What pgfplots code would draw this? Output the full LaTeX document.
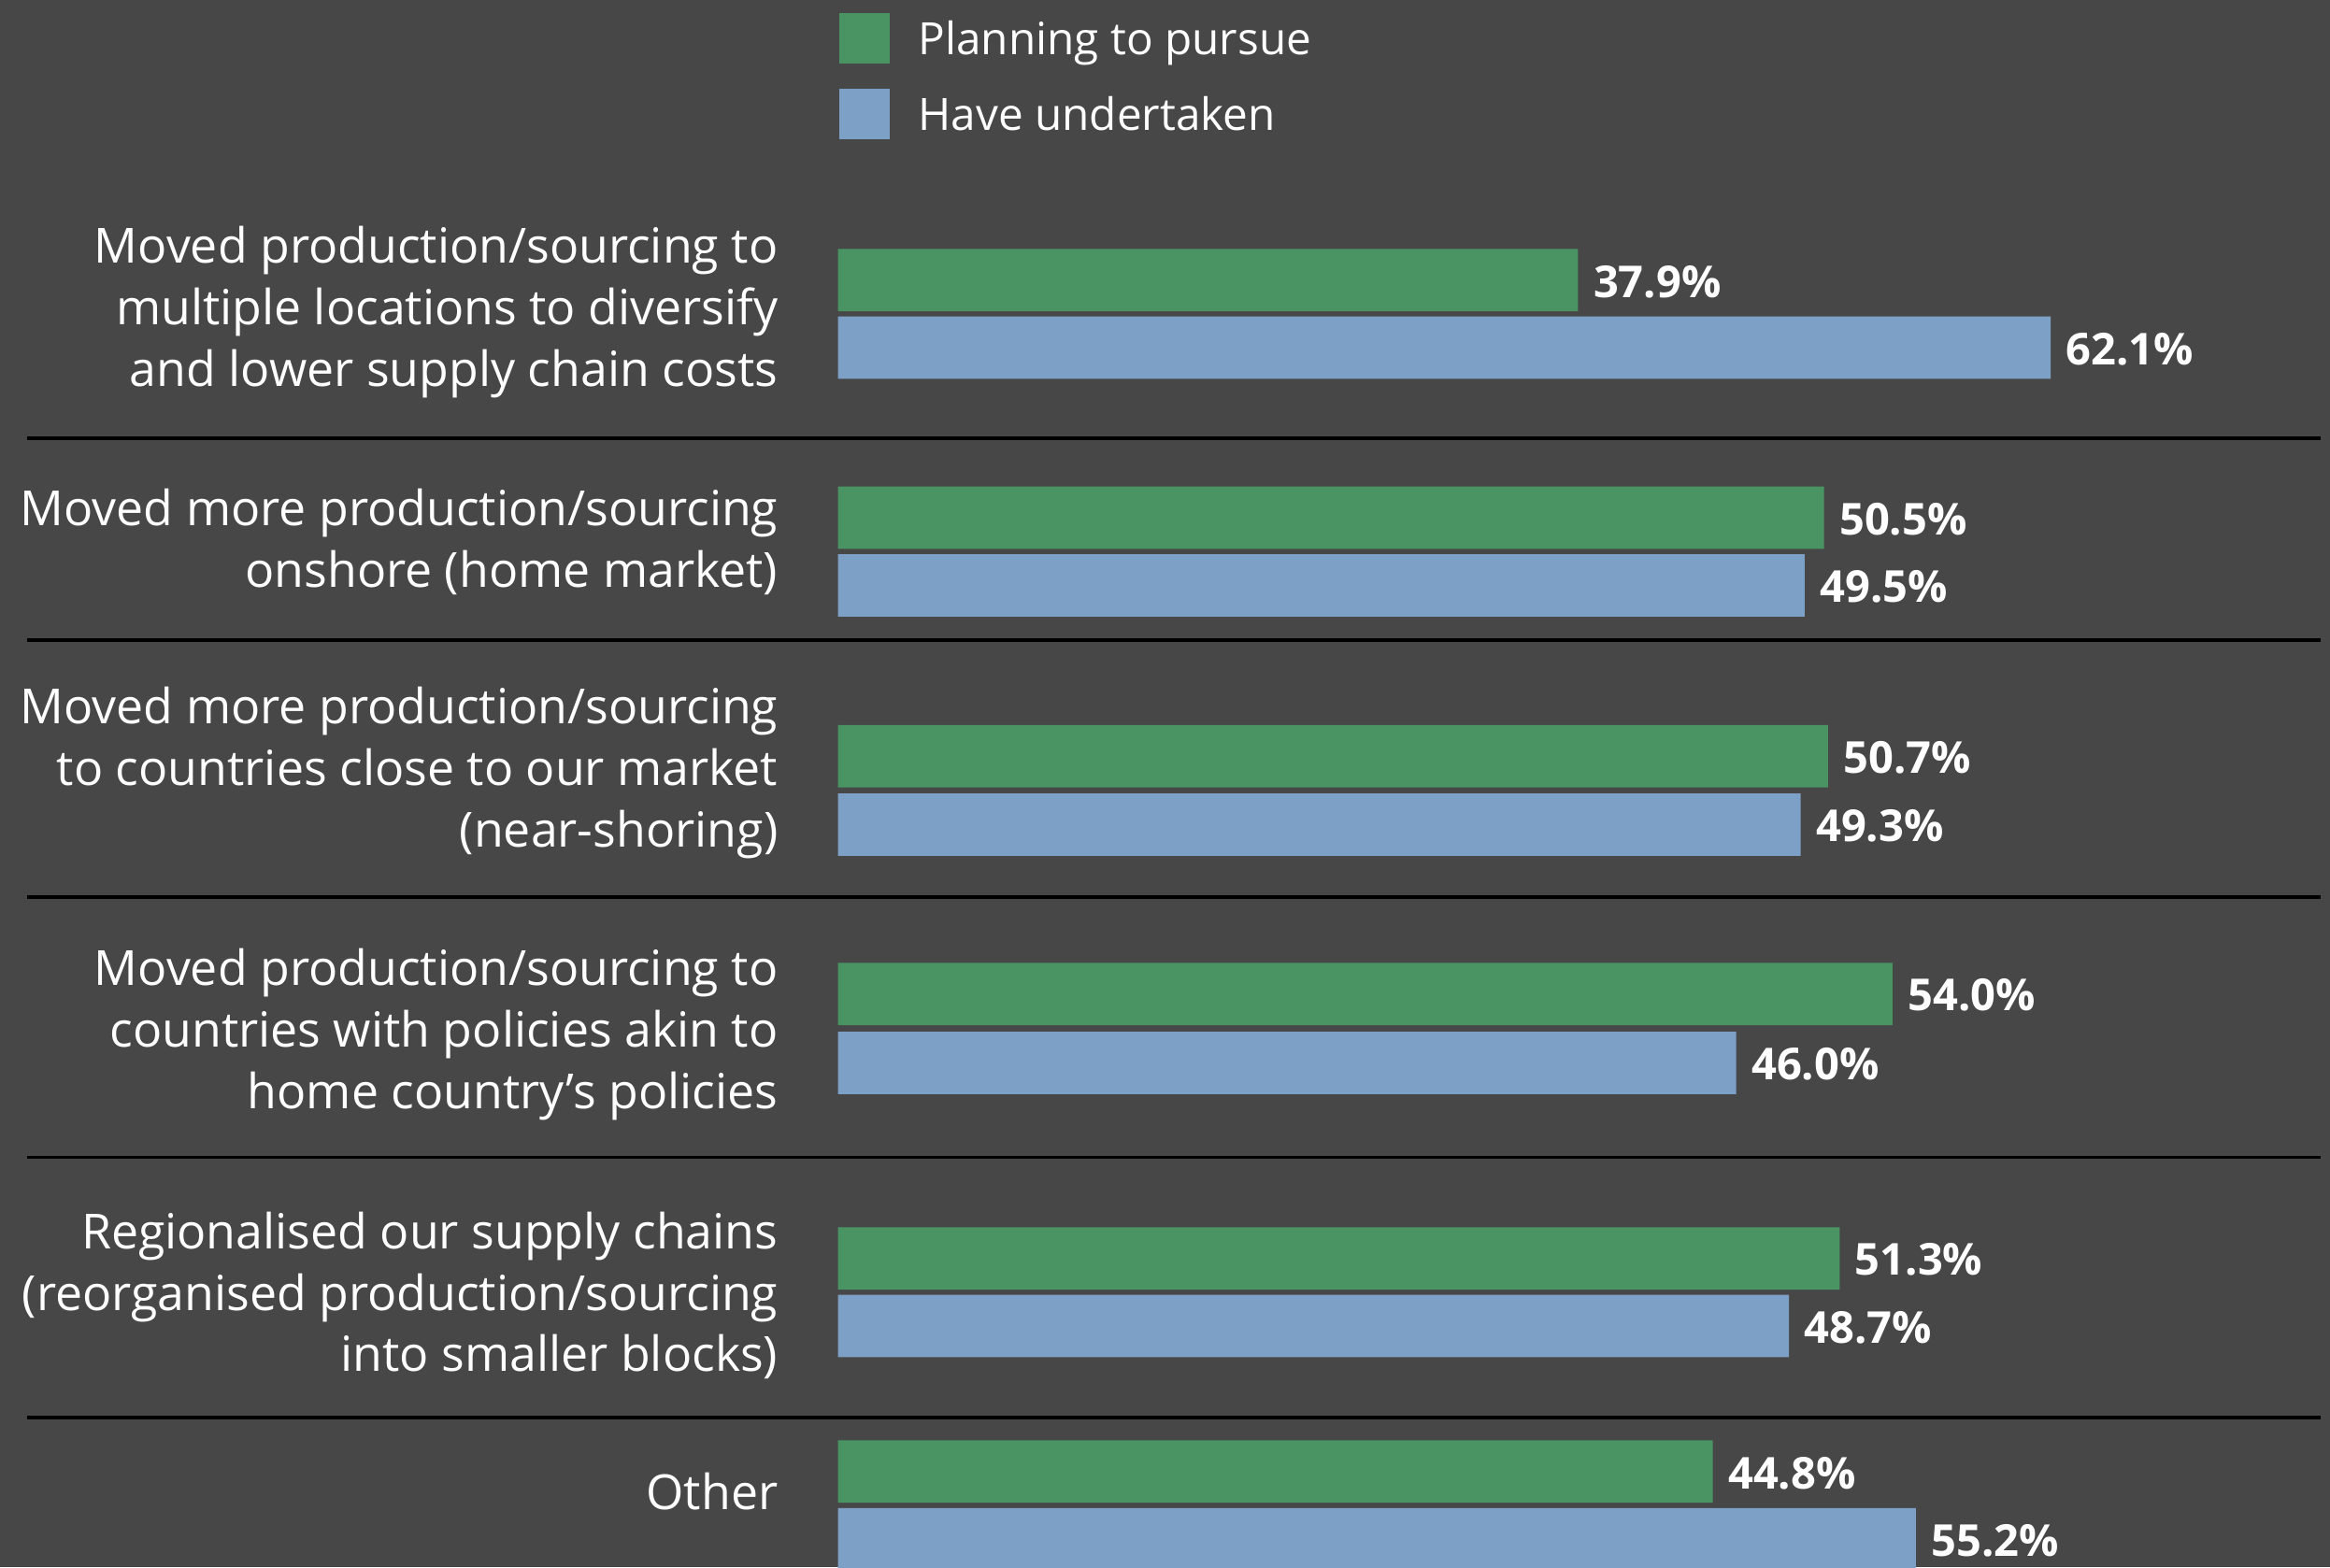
\documentclass[border=0pt]{standalone}
\usepackage{pgfplots}
\pgfplotsset{compat=1.18}
\usepackage{fontspec}
\setmainfont{Open Sans}
\definecolor{bg}{RGB}{71,71,71}
\definecolor{cgreen}{RGB}{74,148,100}
\definecolor{cblue}{RGB}{125,160,198}
\newcommand{\labfont}{\fontsize{16.3}{20.75}\selectfont}
\begin{document}
\begin{tikzpicture}
\fill[bg] (0,0) rectangle (784pt,527.5pt);
\begin{axis}[
  at={(0,0)}, anchor=south west,
  scale only axis, width=784pt, height=527.5pt,
  xmin=-42.92, xmax=76.41, ymin=-1055, ymax=0,
  hide axis,
  /pgf/number format/assume math mode=true,
  xbar, bar width=42, bar shift=0pt,
  nodes near coords={\pgfmathprintnumber[fixed,fixed zerofill,precision=1,assume math mode=true]{\pgfplotspointmeta}\%},
  nodes near coords style={font=\bfseries\fontsize{14.8}{18}\selectfont, text=white, anchor=west, inner sep=0pt, xshift=5pt, yshift=-0.5pt},
  legend style={at={(axis description cs:0.3603,0.9915)}, anchor=north west, draw=none, fill=none,
    text=white, font=\fontsize{15}{18}\selectfont, inner sep=0pt, outer sep=0pt, row sep=8pt,
    nodes={inner sep=0pt, text height=11.5pt, text depth=3.5pt},
    /tikz/every odd column/.append style={column sep=9.5pt}},
  legend cell align=left,
  legend image code/.code={\fill[#1] (0pt,-7pt) rectangle (17pt,10pt);},
]
\addplot[draw=none, fill=cgreen] coordinates {
  (37.9,-188.5) (50.5,-348.5) (50.7,-509) (54.0,-669) (51.3,-847) (44.8,-990.5)};
\addlegendentry{Planning to pursue}
\addplot[draw=none, fill=cblue] coordinates {
  (62.1,-234) (49.5,-394) (49.3,-555) (46.0,-715.5) (48.7,-892.5) (55.2,-1036)};
\addlegendentry{Have undertaken}

\foreach \yy in {295,431,604,779,954} {
  \edef\tmp{\noexpand\draw[black, line width=1.2pt] (axis cs:-41.55,-\yy) -- (axis cs:75.95,-\yy);}
  \tmp
}
\begin{scope}[every node/.style={anchor=east, align=right, text=white, font=\labfont, inner sep=0pt}]
\node at (axis cs:-3.05,-210) {Moved production/sourcing to\\multiple locations to diversify\\and lower supply chain costs};
\node at (axis cs:-3.05,-365) {Moved more production/sourcing\\onshore (home market)};
\node at (axis cs:-3.05,-520) {Moved more production/sourcing\\to countries close to our market\\(near-shoring)};
\node at (axis cs:-3.05,-696) {Moved production/sourcing to\\countries with policies akin to\\home country’s policies};
\node at (axis cs:-3.05,-872) {Regionalised our supply chains\\(reorganised production/sourcing\\into smaller blocks)};
\node at (axis cs:-3.05,-1004) {Other};
\end{scope}
\end{axis}
\pgfresetboundingbox
\path[use as bounding box] (0,0) rectangle (784pt,527.5pt);
\end{tikzpicture}
\end{document}
